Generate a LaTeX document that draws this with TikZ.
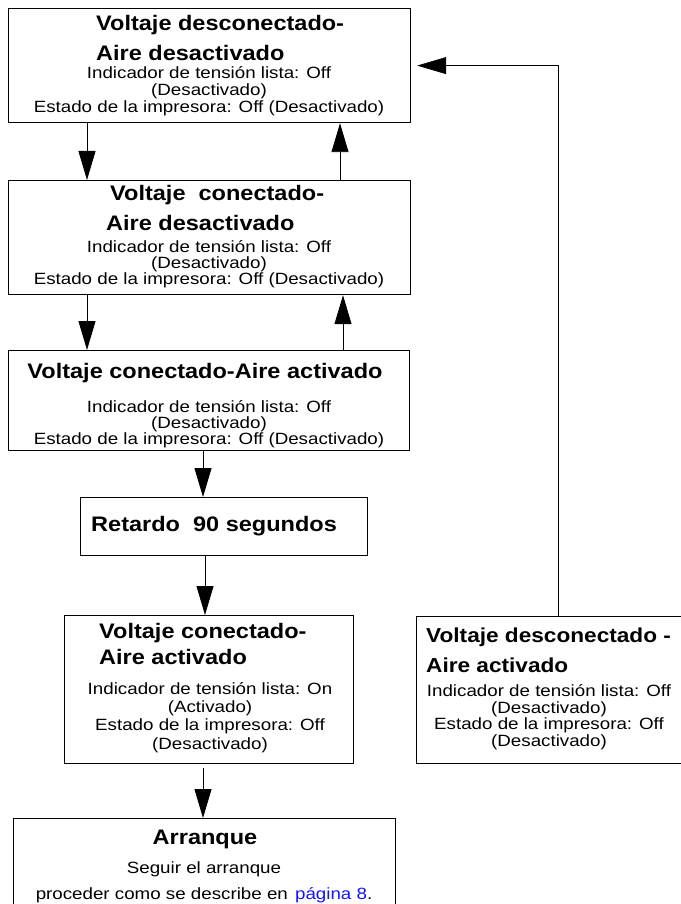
\documentclass[tikz,border=0pt]{standalone}
\usepackage{fontspec}
\setmainfont{Liberation Sans}[FakeStretch=1.12]
\newfontfamily\bodyfont{Liberation Sans}[FakeStretch=1.15]
\usetikzlibrary{arrows.meta, positioning, calc}
\definecolor{linkblue}{RGB}{20,20,255}
\setlength{\lineskiplimit}{-20pt}

\tikzset{
  box/.style={draw, line width=1.2pt, inner sep=0pt, anchor=north west},
  flow/.style={line width=0.9pt, -{Triangle[length=29pt,width=17pt]}},
  ttl/.style={font=\fontsize{21}{30}\selectfont\bfseries, inner sep=0pt, align=left},
  bdy/.style={font=\bodyfont\fontsize{16.3}{17}\selectfont, inner sep=0pt, align=center},
}

\begin{document}
\begin{tikzpicture}[x=1pt, y=-1pt]
\useasboundingbox (0,0) rectangle (680,904);

% Voltaje desconectado - Aire desactivado
\node[box, minimum width=402pt, minimum height=114pt] (v1) at (8,8) {};
\node[ttl, anchor=north west] (v1t) at (96,15) {Voltaje desconectado-\\Aire desactivado};
\node[bdy, anchor=north] (v1b) at (209,66) {Indicador de tensión lista: Off\\(Desactivado)\\Estado de la impresora: Off (Desactivado)};

% Voltaje conectado - Aire desactivado
\node[box, minimum width=402pt, minimum height=114pt] (v2) at (8,180) {};
\node[ttl, anchor=north west] (v2t) at (106,185) {\hspace{4pt}Voltaje\ \ conectado-\\Aire desactivado};
\node[bdy, anchor=north, font=\bodyfont\fontsize{16.3}{16}\selectfont] (v2b) at (209,240) {Indicador de tensión lista: Off\\(Desactivado)\\Estado de la impresora: Off (Desactivado)};

% Voltaje conectado - Aire activado
\node[box, minimum width=401pt, minimum height=100pt] (v3) at (8,350) {};
\node[ttl, anchor=north] (v3t) at (205,363) {Voltaje conectado-Aire activado};
\node[bdy, anchor=north, font=\bodyfont\fontsize{16.3}{16}\selectfont] (v3b) at (209,400) {Indicador de tensión lista: Off\\(Desactivado)\\Estado de la impresora: Off (Desactivado)};

% Retardo
\node[box, minimum width=287pt, minimum height=58pt] (rt) at (80,497) {};
\node[ttl, anchor=north west] (rtt) at (91,516) {Retardo\ \ 90 segundos};

% Voltaje conectado - Aire activado, indicador on
\node[box, minimum width=289pt, minimum height=148pt] (v5) at (64,615) {};
\node[ttl, anchor=north west, font=\fontsize{21}{26}\selectfont\bfseries] (v5t) at (99,623) {Voltaje conectado-\\Aire activado};
\node[bdy, anchor=north, font=\bodyfont\fontsize{16.3}{18.3}\selectfont] (v5b) at (210,682) {Indicador de tensión lista: On\\(Activado)\\Estado de la impresora: Off\\(Desactivado)};

% Voltaje desconectado - Aire activado
\node[box, minimum width=267pt, minimum height=147pt] (vr) at (416,616) {};
\node[ttl, anchor=north west, font=\fontsize{20.2}{30}\selectfont\bfseries] (vrt) at (426,628) {Voltaje desconectado -\\Aire activado};
\node[bdy, anchor=north, font=\bodyfont\fontsize{16.3}{16.8}\selectfont] (vrb) at (549,684) {Indicador de tensión lista: Off\\(Desactivado)\\Estado de la impresora: Off\\(Desactivado)};

% Arranque
\node[box, minimum width=382pt, minimum height=100pt] (ar) at (13,818) {};
\node[ttl, anchor=north] (art) at (205,830) {Arranque};
\node[bdy, anchor=north, font=\bodyfont\fontsize{16.3}{26}\selectfont] (arb) at (204,861) {Seguir el arranque\\proceder como se describe en\hspace{2pt} \textcolor{linkblue}{página 8}.};

% flechas
\draw[flow] ([xshift=79pt]v1.south west) -- ([xshift=79pt]v2.north west);
\draw[flow] ([xshift=332pt]v2.north west) -- ([xshift=332pt]v1.south west);
\draw[flow] ([xshift=79pt]v2.south west) -- ([xshift=79pt]v3.north west);
\draw[flow] ([xshift=335pt]v3.north west) -- ([xshift=335pt]v2.south west);
\draw[flow] ([xshift=195pt]v3.south west) -- ([xshift=195pt]v3.south west |- rt.north);
\draw[flow] ([xshift=125pt]rt.south west) -- ([xshift=125pt]rt.south west |- v5.north);
\draw[flow, shorten <=4pt] ([xshift=139pt]v5.south west) -- ([xshift=139pt]v5.south west |- ar.north);
\draw[flow, line width=0.6pt, shorten >=6pt] ([xshift=142pt]vr.north west) |- (v1.east);
\end{tikzpicture}
\end{document}
